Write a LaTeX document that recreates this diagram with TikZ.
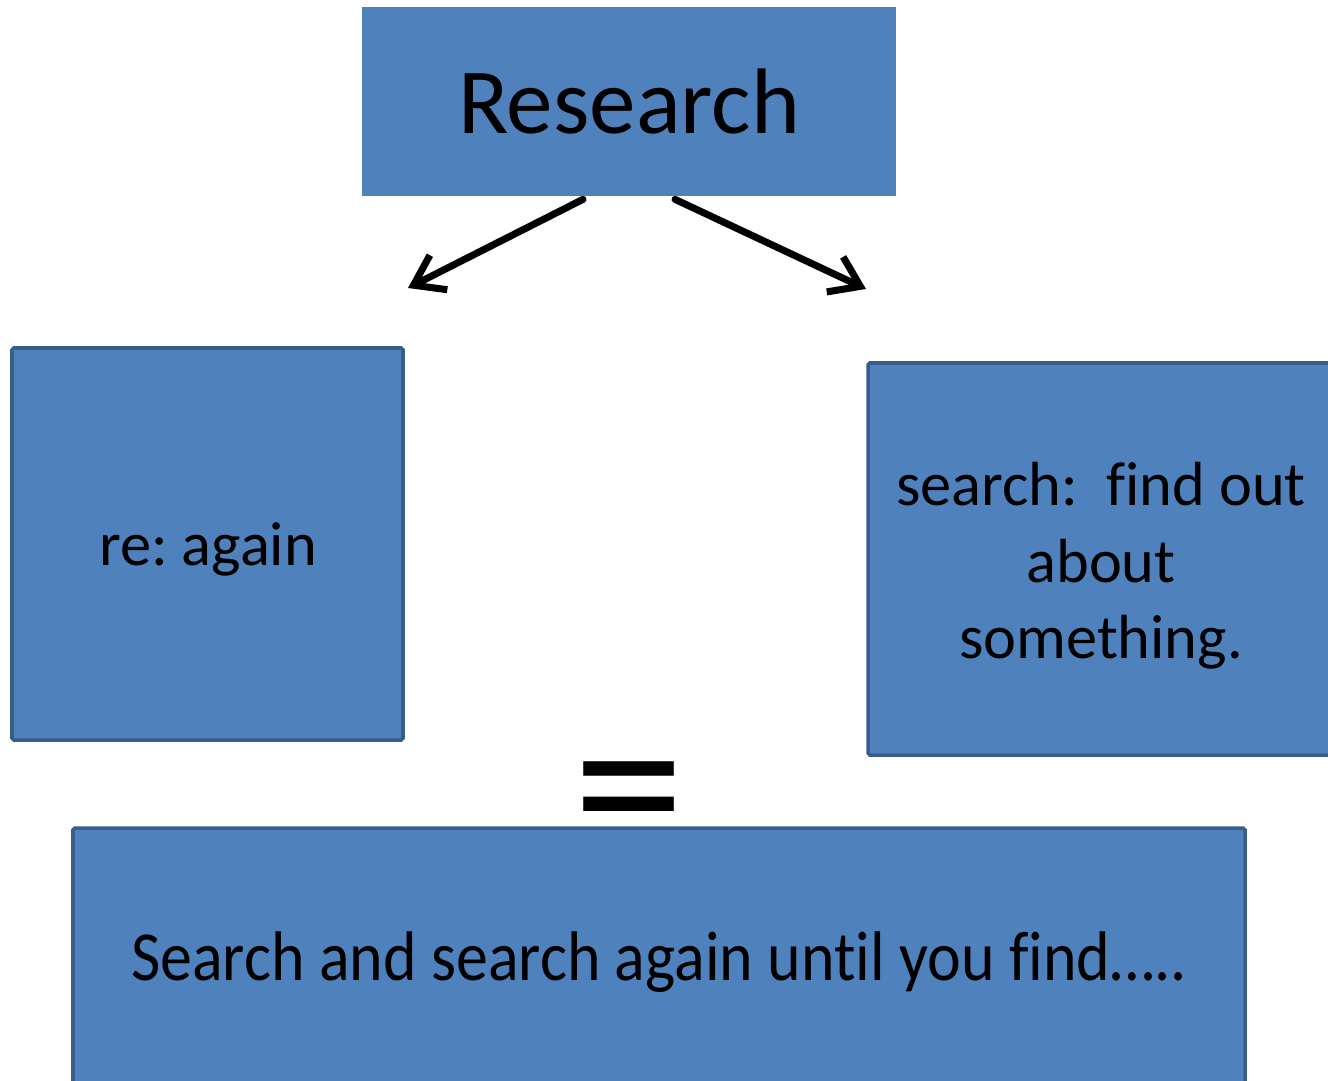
\documentclass[tikz,border=0pt]{standalone}
\usepackage{fontspec}
\setmainfont{Carlito}[Ligatures=NoCommon]
\usepackage{graphicx}
\usetikzlibrary{arrows.meta,calc}
\definecolor{boxblue}{HTML}{4F81BD}
\definecolor{boxedge}{HTML}{385D8A}
\frenchspacing

\begin{document}
\begin{tikzpicture}[x=0.02cm,y=-0.02cm,
  wordbox/.style={rectangle,draw=boxedge,line width=2pt,fill=boxblue,rounded corners=1pt,inner sep=0pt},
  wordtext/.style={font=\fontsize{35.5}{43.6}\selectfont,align=center},
  arr/.style={-{Straight Barb[length=16pt,width=22pt,line width=4pt]},line width=4pt,line cap=round}]
\useasboundingbox (0,0) rectangle (1328,1081);
\clip (0,0) rectangle (1328,1081);
% boxes
\node[rectangle,fill=boxblue,minimum width=534*0.02cm,minimum height=189*0.02cm] (research) at (629,101.5) {};
\node[wordbox,minimum width=391*0.02cm,minimum height=392*0.02cm] (again) at (207.5,544) {};
\node[wordbox,minimum width=468*0.02cm,minimum height=392*0.02cm] (search) at (1102,559) {};
\node[wordbox,minimum width=1172*0.02cm,minimum height=270*0.02cm] (result) at (659,963) {};
% texts
\node[font=\fontsize{53}{60}\selectfont] (researchtxt) at (research.center) {Research};
\node[wordtext] (againtxt) at (208,549) {re: again};
\node[wordtext] (searchtxt) at (1101,566) {search:~ find out\\about\\something.};
\node[font=\fontsize{40}{48}\selectfont] (resulttxt) at (659,962) {\resizebox{21.12cm}{\height}{Search and search again until you find\ldots..}};
\node[font=\fontsize{127}{130}\selectfont] (equals) at (629,810) {=};
% arrows
\coordinate (lstart) at ($(research.south)+(-46,3)$);
\coordinate (rstart) at ($(research.south)+(46,3)$);
\coordinate (ltip) at (408,288);
\coordinate (rtip) at (866,289);
\draw[arr] (lstart) -- (ltip);
\draw[arr] (rstart) -- (rtip);
\end{tikzpicture}
\end{document}
